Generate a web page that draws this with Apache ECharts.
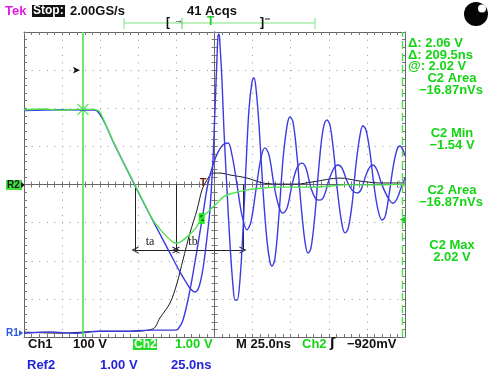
<!DOCTYPE html>
<html>
<head>
<meta charset="utf-8">
<script src="https://cdn.jsdelivr.net/npm/echarts@6/dist/echarts.min.js"></script>
<style>
  html, body { margin: 0; padding: 0; background: #fff; }
  #chart { width: 500px; height: 376px; }
</style>
</head>
<body>
<div id="chart"></div>
<script>
// time in ns (25 ns/div, 0 = centre of screen), level in divisions (1.00 V/div)
const ch1Time  = [-125, -101.4, -75.1, -55.4, -40.4, -35.8, -29.2, -24.6, -20.7, -16.1, -11.5, -8.2, -4.9, -1.0, 3.6, 10.2, 21.3, 31.8, 43.0, 54.1, 64.6, 82.3, 95.5, 108.6, 125];
const ch1Level = [-3.87, -3.90, -3.85, -3.85, -3.79, -3.50, -3.11, -2.59, -1.98, -1.27, -0.67, -0.14, 0.12, 0.30, 0.30, 0.25, 0.17, 0.04, 0.01, 0.01, 0.07, 0.17, 0.09, 0.04, 0.04];

const ch2Time  = [-125, -112, -100, -90, -80, -77, -75.1, -65.3, -52.2, -40.4, -35.8, -30.5, -27.2, -24.6, -21.3, -17.4, -12.8, -8.2, -3.0, 1.6, 5.6, 10.2, 21.3, 31.8, 43.0, 64.6, 86.9, 108.6, 125];
const ch2Level = [1.96, 1.98, 1.95, 1.97, 1.97, 1.95, 1.90, 1.03, -0.01, -0.93, -1.17, -1.40, -1.51, -1.54, -1.48, -1.35, -1.17, -0.88, -0.67, -0.49, -0.33, -0.25, -0.14, -0.09, -0.07, -0.07, -0.01, -0.01, 0.01];

const ref2Time  = [-125, -100, -80, -77, -65.3, -52.2, -40.4, -29.2, -22.6, -18.7, -16.1, -12.8, -10.2, -7.5, -4.9, -3.0, -1.0, 0.3, 1.6, 2.3, 3.0, 3.6, 4.9, 6.2, 8.2, 10.2, 12.1, 13.5, 14.8, 16.7, 18.7, 20.7, 22.6, 24.6, 25.9, 27.2, 29.2, 31.8, 34.4, 36.4, 37.7, 39.7, 42.3, 44.9, 47.6, 49.5, 51.5, 54.1, 56.8, 59.4, 61.4, 63.3, 65.9, 68.6, 71.2, 73.8, 75.8, 78.4, 81.0, 83.7, 85.6, 87.6, 90.2, 92.8, 95.5, 97.4, 99.4, 102.0, 104.6, 107.3, 109.9, 111.9, 114.5, 117.1, 119.7, 121.7, 123.7, 125];
const ref2Level = [1.94, 1.96, 1.95, 1.93, 1.02, -0.03, -0.95, -1.80, -2.30, -2.56, -2.72, -2.82, -2.69, -2.19, -1.38, -0.67, 0.64, 1.96, 3.27, 3.90, 3.95, 3.66, 2.74, 1.43, -0.14, -1.59, -2.64, -3.03, -3.03, -2.51, -1.19, 0.51, 1.96, 2.69, 2.80, 2.53, 1.56, -0.14, -1.46, -2.03, -2.14, -1.93, -0.80, 0.64, 1.54, 1.77, 1.64, 0.77, -0.54, -1.51, -1.80, -1.67, -0.80, 0.51, 1.43, 1.69, 1.56, 0.77, -0.28, -1.06, -1.27, -1.17, -0.54, 0.51, 1.30, 1.54, 1.43, 0.85, -0.01, -0.67, -0.93, -0.85, -0.28, 0.43, 0.91, 1.01, 0.91, 0.75];

const ref1Time  = [-125, -107.9, -91.5, -75.1, -58.7, -42.3, -25.9, -23.9, -20.7, -16.1, -11.5, -7.5, -4.3, -1.0, 2.3, 5.6, 8.9, 11.5, 14.8, 18.0, 21.3, 23.9, 27.2, 30.5, 33.1, 35.8, 39.0, 42.3, 44.9, 47.6, 50.9, 54.1, 57.4, 60.0, 63.3, 66.6, 69.2, 71.9, 75.1, 78.4, 81.0, 83.7, 86.9, 90.2, 93.5, 96.1, 99.4, 102.0, 104.0, 106.6, 109.9, 113.9, 117.1, 119.7, 122.4, 125];
const ref1Level = [-3.90, -3.87, -3.90, -3.85, -3.85, -3.82, -3.82, -3.79, -3.56, -2.77, -1.72, -0.75, 0.02, 0.52, 0.85, 1.04, 1.09, 0.77, -0.01, -0.80, -1.19, -0.98, -0.14, 0.70, 0.96, 0.77, -0.01, -0.59, -0.75, -0.62, -0.01, 0.43, 0.56, 0.43, -0.09, -0.38, -0.41, -0.30, 0.12, 0.43, 0.51, 0.43, 0.09, -0.14, -0.22, -0.14, 0.25, 0.46, 0.51, 0.38, -0.01, -0.35, -0.49, -0.38, -0.09, 0.17];

// cursors: two vertical time cursors, ta/tb measurement box
const cursorTimes = [-86.3, 123.2];
const cursorLevel = [1.97, 0.01];
const taTbTimes = [-52.2, -25.3, 18.7];
const taTbLevels = [0, -1.72];
const taTbNames = ['ta', 'tb'];
const taTbLabelAt = [[-42.3, -1.5], [-14.1, -1.5]];
const triggerLevel = -0.92;
const triggerPoint = [-8.4, -0.89];
const ch1Mark = [-7.5, 0.03];
const posMarker = [-88.3, 3.0];

const GREEN = '#4ce44c';
const TXT_GREEN = '#14d414';
const BLUE = '#3b3be0';
const FONT = 'Liberation Sans, Arial, sans-serif';
const pairs = (ts, vs) => ts.map((t, i) => [t, vs[i]]);

const chevron = 'path://M0,10 L5,0 L10,10 L8.4,10 L5,3.2 L1.6,10 Z';
const cross = 'path://M0,0 L10,10 M10,0 L0,10';

function timeAxis(position, onZero, inside, split) {
  return {
    type: 'value', min: -125, max: 125, interval: 25, position,
    axisLine: { show: true, onZero, onZeroAxisIndex: 0, lineStyle: { color: '#666', width: 1 } },
    axisTick: { show: true, inside, length: 3, lineStyle: { color: '#777' } },
    minorTick: { show: true, splitNumber: 5, length: 3, lineStyle: { color: '#777' } },
    axisLabel: { show: false },
    splitLine: { show: split, lineStyle: { color: '#999', width: 1, type: [1, 6.62] } },
  };
}
function levelAxis(position, onZero, inside, split) {
  return {
    type: 'value', min: -4, max: 4, interval: 1, position,
    axisLine: { show: true, onZero, onZeroAxisIndex: 0, lineStyle: { color: '#666', width: 1 } },
    axisTick: { show: true, inside, length: 3, lineStyle: { color: '#777' } },
    minorTick: { show: true, splitNumber: 5, length: 3, lineStyle: { color: '#777' } },
    axisLabel: { show: false },
    splitLine: { show: split, lineStyle: { color: '#999', width: 1, type: [1, 6.62] } },
  };
}

function txt(x, y, text, fill, opts) {
  return {
    type: 'text', x, y, z: 20,
    style: Object.assign({ text, fill, font: 'bold 13px ' + FONT, align: 'left', verticalAlign: 'middle' }, opts || {}),
  };
}
function seg(x1, y1, x2, y2, stroke, w) {
  return { type: 'line', z: 20, shape: { x1, y1, x2, y2 }, style: { stroke, lineWidth: w || 1 } };
}

const chart = echarts.init(document.getElementById('chart'), null, { renderer: 'canvas' });

const option = {
  animation: false,
  backgroundColor: '#fff',
  grid: { left: 24, top: 32, width: 381, height: 305, containLabel: false, outerBoundsMode: 'none' },
  xAxis: [
    timeAxis('bottom', false, true, true),
    timeAxis('top', false, true, false),
    timeAxis('bottom', true, true, false),
    timeAxis('bottom', true, false, false),
  ],
  yAxis: [
    levelAxis('left', false, true, true),
    levelAxis('right', false, true, false),
    levelAxis('left', true, true, false),
    levelAxis('left', true, false, false),
  ],
  series: [
    {
      name: 'Ch1', type: 'line', symbol: 'none', smooth: 0.3, z: 3,
      data: pairs(ch1Time, ch1Level),
      lineStyle: { color: '#1a1a1a', width: 1 },
      markLine: {
        silent: true, symbol: ['none', 'none'], animation: false,
        lineStyle: { color: '#222', width: 1, type: 'solid' },
        label: { show: false },
        data: [
          [{ coord: [taTbTimes[0], taTbLevels[0]] }, { coord: [taTbTimes[0], taTbLevels[1]] }],
          [{ coord: [taTbTimes[1], taTbLevels[0]] }, { coord: [taTbTimes[1], taTbLevels[1]] }],
          [{ coord: [taTbTimes[2], taTbLevels[0]] }, { coord: [taTbTimes[2], taTbLevels[1]] }],
          [
            { coord: [taTbTimes[0], taTbLevels[1]], symbol: chevron, symbolSize: 7 },
            { coord: [taTbTimes[1], taTbLevels[1]], symbol: chevron, symbolSize: 7 },
          ],
          [
            { coord: [taTbTimes[1], taTbLevels[1]], symbol: chevron, symbolSize: 7 },
            { coord: [taTbTimes[2], taTbLevels[1]], symbol: chevron, symbolSize: 7 },
          ],
        ],
      },
      markPoint: {
        silent: true, animation: false,
        data: [
          { coord: ch1Mark, symbol: 'rect', symbolSize: 1, itemStyle: { color: 'transparent' },
            label: { show: true, formatter: 'T', color: '#7a1212', fontWeight: 'bold', fontSize: 11, fontFamily: FONT } },
          { coord: posMarker, symbol: 'arrow', symbolRotate: -90, symbolSize: [5, 7], itemStyle: { color: '#111' }, label: { show: false } },
        ].concat(taTbNames.map((name, i) => ({
          coord: taTbLabelAt[i], symbol: 'rect', symbolSize: 1, itemStyle: { color: 'transparent' },
          label: { show: true, formatter: name, color: '#222', fontFamily: 'Liberation Serif, serif', fontSize: 12 },
        }))),
      },
    },
    {
      name: 'Ref1', type: 'line', symbol: 'none', smooth: 0.35, z: 4,
      data: pairs(ref1Time, ref1Level),
      lineStyle: { color: BLUE, width: 1.4 },
    },
    {
      name: 'Ref2', type: 'line', symbol: 'none', smooth: 0.35, z: 5,
      data: pairs(ref2Time, ref2Level),
      lineStyle: { color: BLUE, width: 1.4 },
    },
    {
      name: 'Ch2', type: 'line', symbol: 'none', smooth: 0.3, z: 6,
      data: pairs(ch2Time, ch2Level),
      lineStyle: { color: GREEN, width: 1.4 },
      markLine: {
        silent: true, symbol: ['none', 'none'], animation: false,
        label: { show: false },
        data: [
          { xAxis: cursorTimes[0], lineStyle: { color: GREEN, width: 1.6, type: 'solid' } },
          { xAxis: cursorTimes[1], lineStyle: { color: GREEN, width: 1.4, type: [8, 4] } },
        ],
      },
      markPoint: {
        silent: true, animation: false,
        label: { show: false },
        data: [
          { coord: [cursorTimes[0], cursorLevel[0]], symbol: cross, symbolSize: 11,
            itemStyle: { color: 'transparent', borderColor: GREEN, borderWidth: 1.2 } },
          { coord: [cursorTimes[1], cursorLevel[1]], symbol: cross, symbolSize: 8,
            itemStyle: { color: 'transparent', borderColor: '#8a9a8a', borderWidth: 1 } },
          { coord: triggerPoint, symbol: 'rect', symbolSize: [6, 11], itemStyle: { color: '#22e622' },
            label: { show: true, formatter: '1', color: '#0a5a0a', fontSize: 9, fontWeight: 'bold' } },
          { coord: [123.6, triggerLevel], symbol: 'triangle', symbolRotate: 90, symbolSize: [7, 6],
            itemStyle: { color: '#22cc22' } },
        ],
      },
    },
  ],
  graphic: [
    // header
    txt(5, 11, 'Tek', '#e01be0'),
    { type: 'rect', z: 19, shape: { x: 32, y: 5, width: 33, height: 12 }, style: { fill: '#111' } },
    txt(33, 11, 'Stop:', '#fff', { font: 'bold 12px ' + FONT }),
    txt(70, 11, '2.00GS/s', '#111'),
    txt(187, 11, '41 Acqs', '#111'),
    // record bar
    seg(124, 23, 315, 23, '#7fe47f', 1),
    seg(124, 18, 124, 29, '#7fe47f', 1),
    seg(182, 18, 182, 29, '#4ccf4c', 1),
    seg(263, 18, 263, 29, '#4ccf4c', 1),
    seg(315, 18, 315, 29, '#7fe47f', 1),
    txt(166, 23, '[', '#111', { font: 'bold 12px ' + FONT }),
    txt(174, 21, '\u2192', '#111', { font: 'bold 9px ' + FONT }),
    txt(207, 22, 'T', '#22cc22', { font: 'bold 12px ' + FONT }),
    txt(260, 23, ']', '#111', { font: 'bold 12px ' + FONT }),
    seg(265, 19, 270, 19, '#111', 1),
    { type: 'circle', z: 20, shape: { cx: 476, cy: 14, r: 12 }, style: { fill: '#050505' } },
    { type: 'circle', z: 21, shape: { cx: 482, cy: 8.5, r: 4 }, style: { fill: '#fff' } },
    // channel ground markers
    { type: 'rect', z: 19, shape: { x: 6, y: 180, width: 16, height: 10 }, style: { fill: '#3ee03e' } },
    txt(7, 185.5, 'R2', '#1a1a1a', { font: 'bold 10px ' + FONT }),
    { type: 'polygon', z: 20, shape: { points: [[21, 182], [25, 185], [21, 188]] }, style: { fill: '#1a1a1a' } },
    txt(6, 333, 'R1', '#2a5ae0', { font: 'bold 10px ' + FONT }),
    { type: 'polygon', z: 20, shape: { points: [[19, 330], [23, 333], [19, 336]] }, style: { fill: '#2a5ae0' } },
    // right readout
    txt(408, 43, '\u0394: 2.06 V', TXT_GREEN),
    txt(408, 55, '\u0394: 209.5ns', TXT_GREEN),
    txt(408, 66, '@: 2.02 V', TXT_GREEN),
    txt(452, 78, 'C2 Area', TXT_GREEN, { align: 'center' }),
    txt(451, 90, '\u221216.87nVs', TXT_GREEN, { align: 'center' }),
    txt(452, 133, 'C2 Min', TXT_GREEN, { align: 'center' }),
    txt(452, 145, '\u22121.54 V', TXT_GREEN, { align: 'center' }),
    txt(452, 190, 'C2 Area', TXT_GREEN, { align: 'center' }),
    txt(451, 202, '\u221216.87nVs', TXT_GREEN, { align: 'center' }),
    txt(452, 245, 'C2 Max', TXT_GREEN, { align: 'center' }),
    txt(452, 257, '2.02 V', TXT_GREEN, { align: 'center' }),
    // bottom readout
    txt(28, 344, 'Ch1', '#111'),
    txt(73, 344, '100 V', '#111'),
    { type: 'rect', z: 19, shape: { x: 133, y: 339, width: 24, height: 11 }, style: { fill: '#22dd22' } },
    txt(134, 344.5, 'Ch2', '#fff', { font: 'bold 12px ' + FONT }),
    txt(175, 344, '1.00 V', TXT_GREEN),
    txt(236, 344, 'M 25.0ns', '#111'),
    txt(302, 344, 'Ch2', TXT_GREEN),
    txt(330, 344, '\u0283', '#111', { font: 'bold 13px DejaVu Sans, ' + FONT }),
    txt(347, 344, '\u2212920mV', '#111'),
    txt(27, 365, 'Ref2', '#2222dd'),
    txt(100, 365, '1.00 V', '#2222dd'),
    txt(171, 365, '25.0ns', '#2222dd'),
  ],
};

chart.setOption(option);
</script>
</body>
</html>
